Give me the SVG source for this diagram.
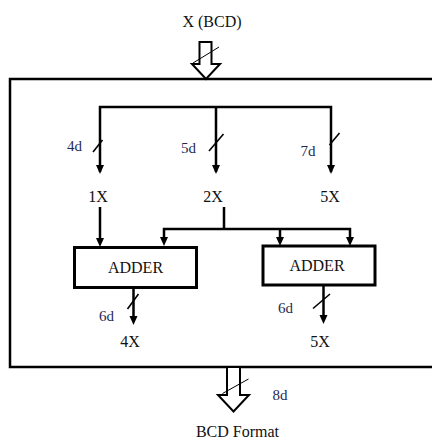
<svg xmlns="http://www.w3.org/2000/svg" width="432" height="441" viewBox="0 0 432 441">
<defs>
<style>
.t{font-family:"Liberation Serif","Times New Roman",serif;font-size:16px;fill:#111}
.d{font-family:"Liberation Serif","Times New Roman",serif;font-size:15px;fill:#1f2a52}
.w{fill:none;stroke:#000;stroke-width:2.5}
.s{fill:none;stroke:#000;stroke-width:1.6}
.big{fill:#fff;stroke:#000;stroke-width:2}
.thin{fill:none;stroke:#000;stroke-width:1}
.box{fill:#fff;stroke:#000;stroke-width:3}
</style>
<marker id="ah" viewBox="0 0 8 10" refX="4" refY="10" markerWidth="8" markerHeight="10" markerUnits="userSpaceOnUse" orient="auto-start-reverse">
<path d="M0,0 L8,0 L4,10 Z" fill="#000" transform="rotate(-90 4 5)"/>
</marker>
</defs>
<rect width="432" height="441" fill="#fff"/>
<g id="frame">
<path class="w" d="M436,79 H10 V367 H436"/>
</g>
<g id="input">
<text class="t" x="212" y="27" text-anchor="middle">X (BCD)</text>
<path class="big" d="M199.5,42 H211.5 V64 H220 L206,79 L192,64 H199.5 Z"/>
<line class="thin" x1="193" y1="63" x2="219" y2="47"/>
</g>
<g id="connectors">
<path class="w" d="M100,172 V107 H331 V172 M216,107 V172"/>
<path d="M96,165 H104 L100,174 Z M212,165 H220 L216,174 Z M327,165 H335 L331,174 Z" fill="#000"/>
<line class="s" x1="93" y1="152" x2="102.5" y2="140"/>
<line class="s" x1="209" y1="151" x2="223.5" y2="134"/>
<line class="s" x1="329.5" y1="145" x2="339.5" y2="133"/>
<path class="w" d="M100,207 V240"/>
<path d="M96,238 H104 L100,247 Z" fill="#000"/>
<path class="w" d="M224,207 V229 M164,238 V229 H350 V238 M280,229 V238"/>
<path d="M160,237 H168 L164,246 Z M276,237 H284 L280,246 Z M346,237 H354 L350,246 Z" fill="#000"/>
<path class="w" d="M133.5,288 V318"/>
<path d="M129.5,316 H137.5 L133.5,325 Z" fill="#000"/>
<line class="s" x1="127.5" y1="309" x2="138.5" y2="294"/>
<path class="w" d="M323.5,286 V317"/>
<path d="M319.5,315 H327.5 L323.5,324 Z" fill="#000"/>
<line class="s" x1="313" y1="308.5" x2="330" y2="294"/>
</g>
<g id="adder1">
<rect class="box" x="74.5" y="247.5" width="122" height="40"/>
<text class="t" x="135.5" y="273" text-anchor="middle">ADDER</text>
</g>
<g id="adder2">
<rect class="box" x="263" y="246" width="112" height="39"/>
<text class="t" x="317" y="271" text-anchor="middle">ADDER</text>
</g>
<g id="labels">
<text class="d" x="67" y="151">4d</text>
<text class="d" x="181" y="153">5d</text>
<text class="d" x="300.5" y="156">7d</text>
<text class="t" x="98" y="202" text-anchor="middle">1X</text>
<text class="t" x="213" y="202" text-anchor="middle">2X</text>
<text class="t" x="330" y="202" text-anchor="middle">5X</text>
<text class="d" x="99" y="321">6d</text>
<text class="d" x="278" y="313">6d</text>
<text class="t" x="130" y="347" text-anchor="middle">4X</text>
<text class="t" x="320" y="347" text-anchor="middle">5X</text>
</g>
<g id="output">
<path class="big" d="M227,367 H240 V395 H249 L233.5,411.5 L218,395 H227 Z"/>
<line class="thin" x1="222.5" y1="393.5" x2="248.5" y2="379"/>
<text class="d" x="272.5" y="400">8d</text>
<text class="t" x="237.5" y="437" text-anchor="middle">BCD Format</text>
</g>
</svg>
